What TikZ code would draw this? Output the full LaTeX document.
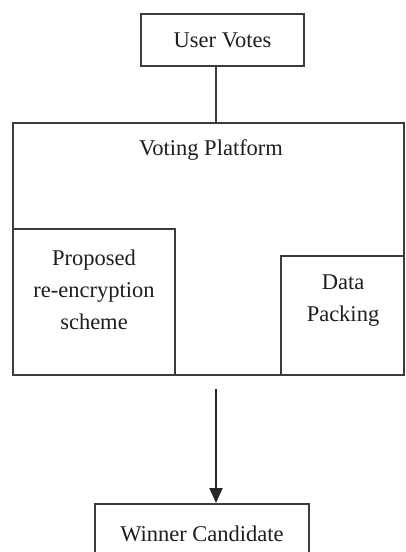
\documentclass[tikz,border=0pt]{standalone}
\usepackage{fontspec}
\setmainfont{Liberation Serif}
\usetikzlibrary{arrows.meta,calc}
\definecolor{linec}{HTML}{3C3C3C}
\definecolor{textc}{HTML}{1E1E1E}
\tikzset{
  box/.style={draw=linec, line width=2pt, rectangle, inner sep=0pt, text=textc, font=\fontsize{22.5}{32}\selectfont},
  lbl/.style={text=textc, font=\fontsize{22.5}{32}\selectfont, align=center, inner sep=0pt},
  conn/.style={draw=linec, line width=2pt},
}
\begin{document}
\begin{tikzpicture}[x=1pt,y=-1pt]
\useasboundingbox[fill=white] (0,0) rectangle (405,552);
% boxes
\node[box, minimum width=163pt, minimum height=52pt] (uv) at (222.5,40) {User Votes};
\node[box, minimum width=391pt, minimum height=252pt] (platform) at (208.5,249) {};
\node[box, minimum width=162pt, minimum height=146pt] (reenc) at (94,302) {};
\node[box, minimum width=123pt, minimum height=119pt] (pack) at (342.5,315.5) {};
\node[box, minimum width=214pt, minimum height=60pt] (winner) at (202,534) {Winner Candidate\hspace{20pt}};
% texts
\node[lbl] (vp) at (211,150) {Voting Platform};
\node[lbl] (reenctxt) at (94,290) {Proposed\\re-encryption\\scheme};
\node[lbl] (packtxt) at (343,301) {Data\\Packing};
% connectors
\draw[conn] ([xshift=-7pt]uv.south) -- ([xshift=-7pt]uv.south |- platform.north);
\coordinate (arrstart) at (216,389);
\draw[conn, draw=black!85, fill=black!85, -{Triangle[width=13pt,length=15pt]}] (arrstart) -- (arrstart |- winner.north);
\end{tikzpicture}
\end{document}
